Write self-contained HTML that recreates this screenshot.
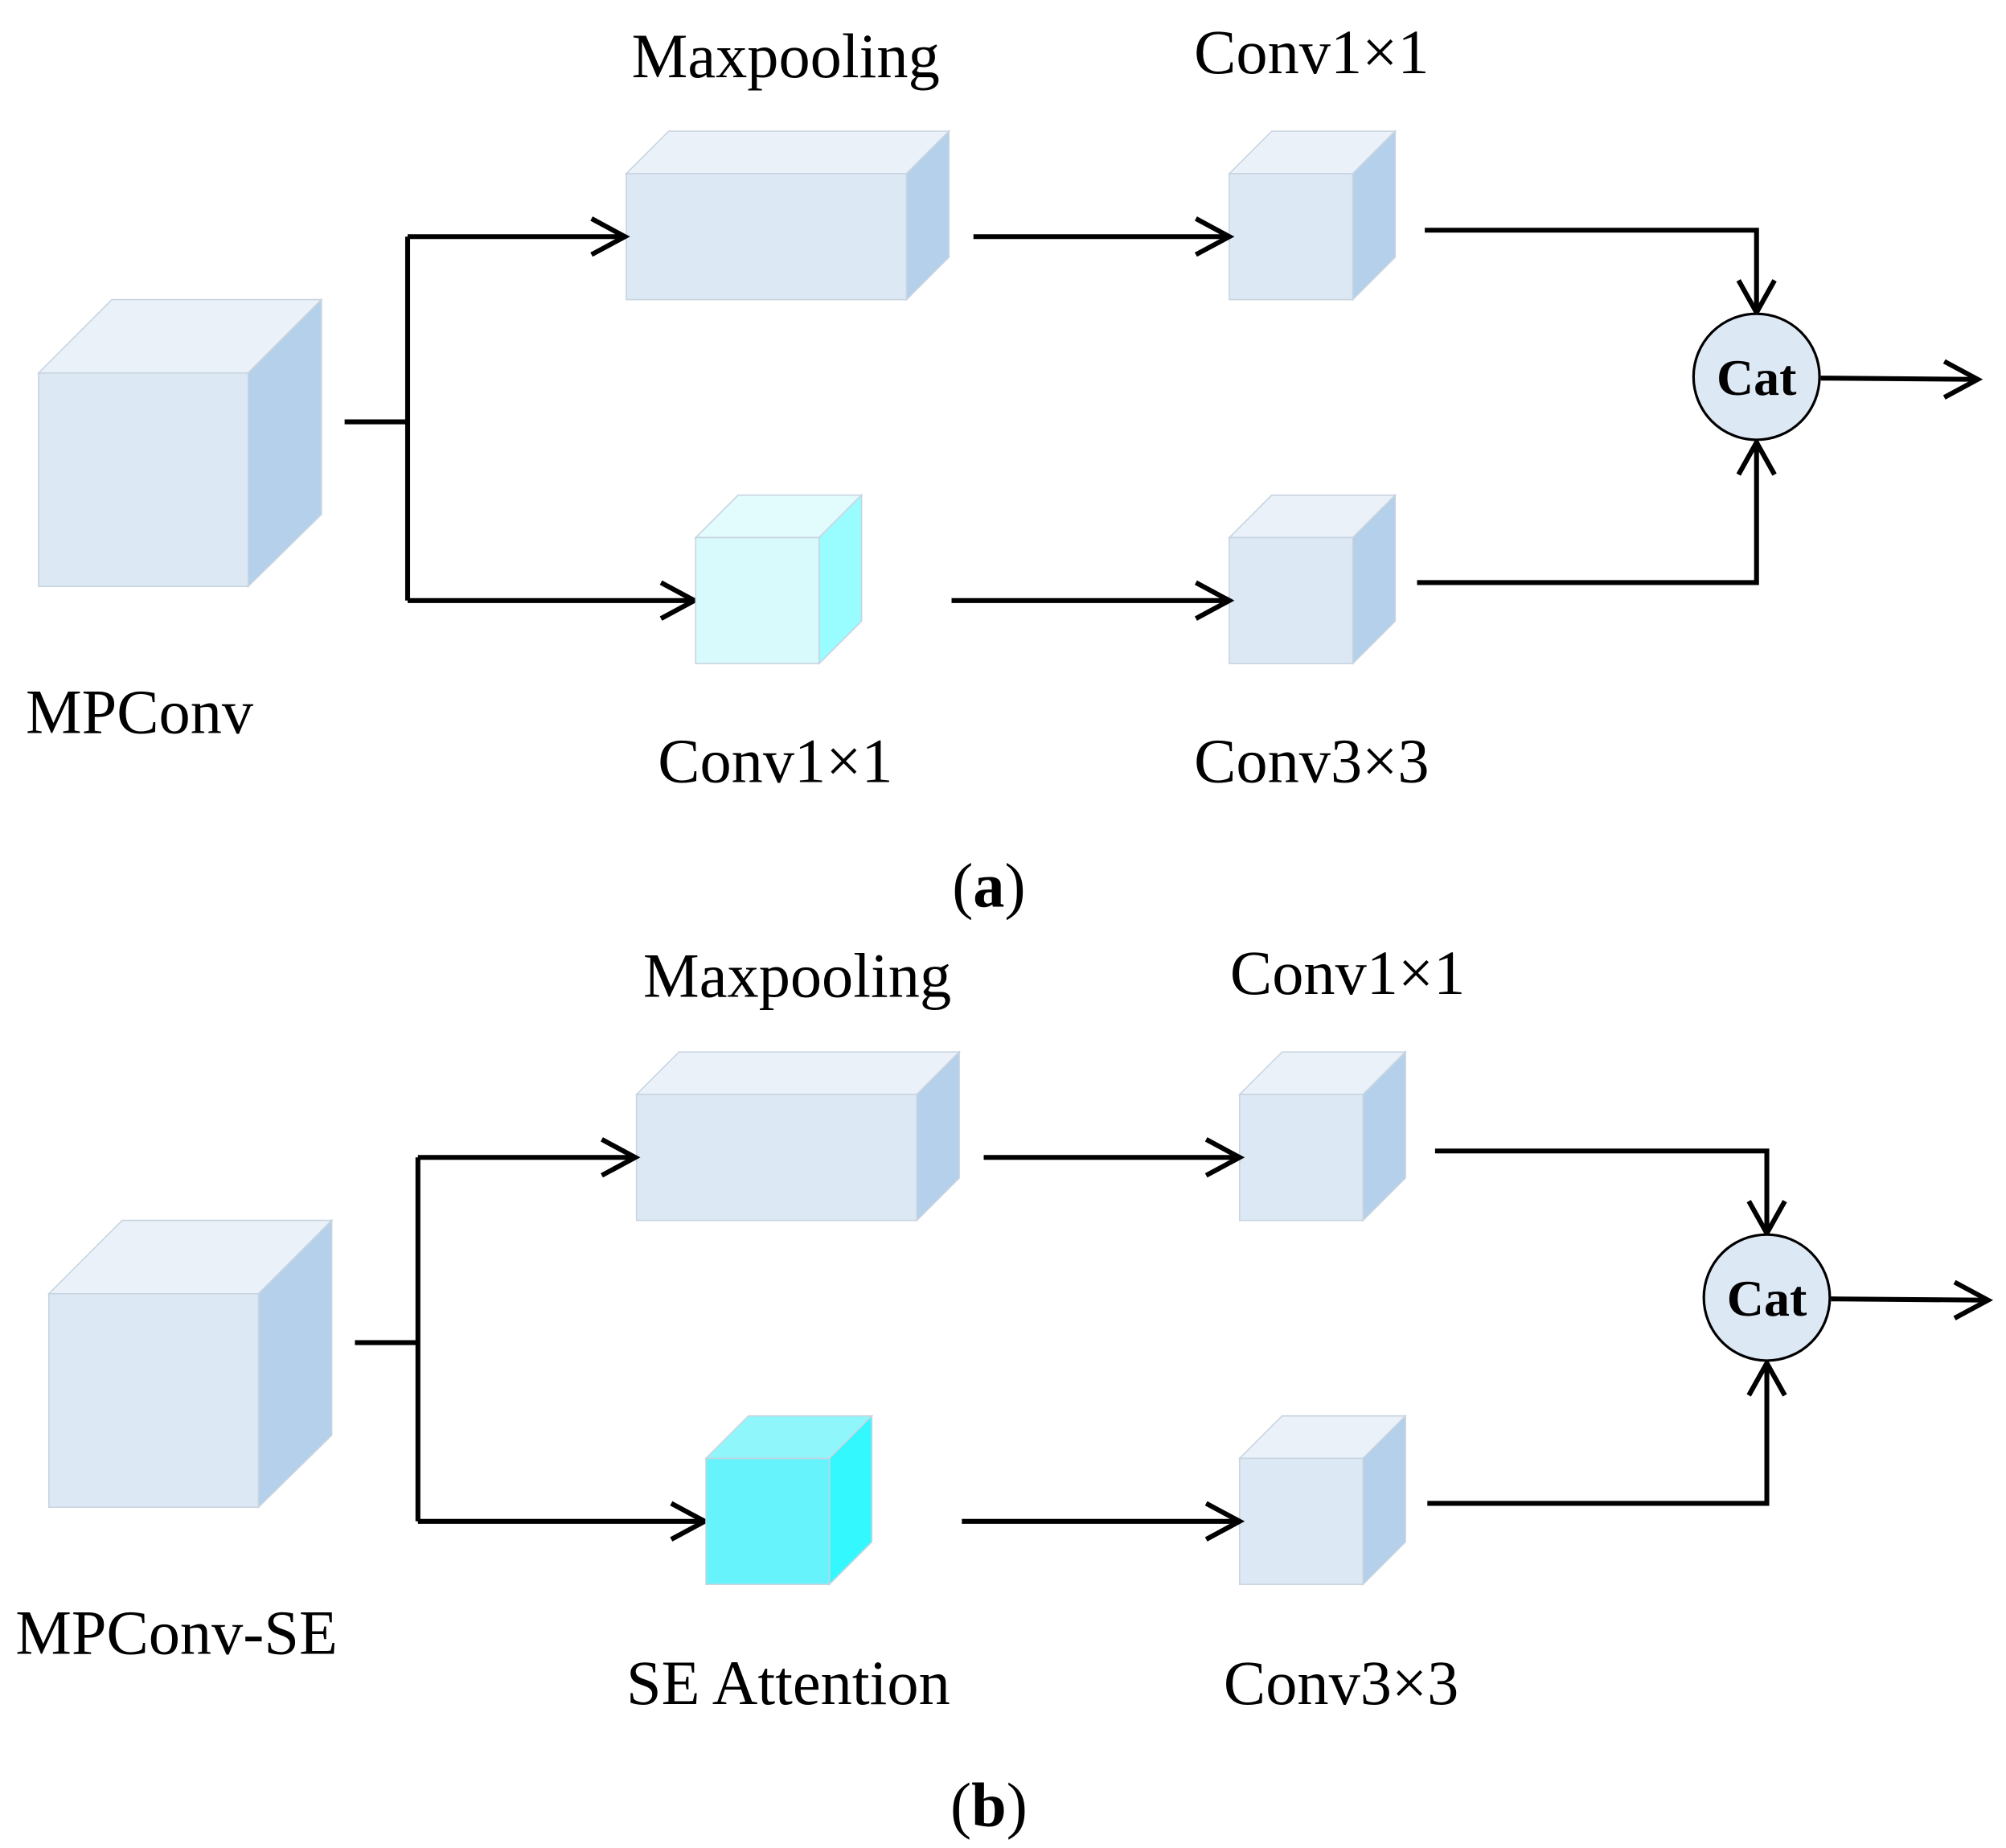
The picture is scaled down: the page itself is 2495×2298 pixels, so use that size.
<!DOCTYPE html>
<html><head><meta charset="utf-8"><style>html,body{margin:0;padding:0;background:#fff}svg{display:block}</style></head><body>
<svg width="2495" height="2298" viewBox="0 0 1560 1437" preserveAspectRatio="none" xmlns="http://www.w3.org/2000/svg" font-family="'Liberation Serif', serif">
<g id="A">
<g stroke="#c8d4e0" stroke-width="1">
<polygon points="30,290 87,233 250,233 193,290" fill="#eaf1f9"/>
<polygon points="193,290 250,233 250,400 193,456" fill="#b4d0ea"/>
<rect x="30" y="290" width="163" height="166" fill="#dde8f5"/>
<polygon points="487,135 520,102 738,102 705,135" fill="#eaf1f9"/>
<polygon points="705,135 738,102 738,200 705,233" fill="#b4d0ea"/>
<rect x="487" y="135" width="218" height="98" fill="#dde8f5"/>
<polygon points="956,135 989,102 1085,102 1052,135" fill="#eaf1f9"/>
<polygon points="1052,135 1085,102 1085,200 1052,233" fill="#b4d0ea"/>
<rect x="956" y="135" width="96" height="98" fill="#dde8f5"/>
<polygon points="956,418 989,385 1085,385 1052,418" fill="#eaf1f9"/>
<polygon points="1052,418 1085,385 1085,483 1052,516" fill="#b4d0ea"/>
<rect x="956" y="418" width="96" height="98" fill="#dde8f5"/>
</g>
<g fill="none" stroke="#000" stroke-width="3.8">
<path d="M268,328 H317 M317,184 V467 M317,184 H486 M317,467 H539"/>
<path d="M757,184 H956 M740,467 H956"/>
<path d="M1108,179 H1366 V243 M1102,453 H1366 V344 M1416,294 L1538,295"/>
<path d="M460,170 L486,184 L460,198 M514,453 L540,467 L514,481 M930,170 L956,184 L930,198 M930,453 L956,467 L930,481"/>
<path d="M1352,218 L1366,243 L1380,218 M1352,369 L1366,344 L1380,369 M1512,281 L1538,295 L1512,309"/>
</g>
</g>
<g stroke="#c8d4e0" stroke-width="1">
<polygon points="541,418 574,385 670,385 637,418" fill="#e2fbfd"/>
<polygon points="637,418 670,385 670,483 637,516" fill="#99fcff"/>
<rect x="541" y="418" width="96" height="98" fill="#d8fafd"/>
</g>
<circle cx="1366" cy="293" r="49" fill="#dde8f5" stroke="#000" stroke-width="2"/>
<text x="1366" y="307" font-size="40" font-weight="bold" text-anchor="middle">Cat</text>
<g font-size="49" text-anchor="middle">
<text x="611" y="60">Maxpooling</text>
<text x="1020" y="57">Conv1×1</text>
<text x="20" y="570" text-anchor="start">MPConv</text>
<text x="603" y="608">Conv1×1</text>
<text x="1020" y="608">Conv3×3</text>
<text x="769" y="705">(<tspan font-weight="bold">a</tspan>)</text>
</g>
<g transform="translate(8,716)">
<use href="#A"/>
<g stroke="#c8d4e0" stroke-width="1">
<polygon points="541,418 574,385 670,385 637,418" fill="#8ff7fb"/>
<polygon points="637,418 670,385 670,483 637,516" fill="#33f9ff"/>
<rect x="541" y="418" width="96" height="98" fill="#66f3fb"/>
</g>
<circle cx="1366" cy="293" r="49" fill="#dde8f5" stroke="#000" stroke-width="2"/>
<text x="1366" y="307" font-size="40" font-weight="bold" text-anchor="middle">Cat</text>
</g>
<g font-size="49" text-anchor="middle">
<text x="620" y="775">Maxpooling</text>
<text x="1048" y="773">Conv1×1</text>
<text x="12" y="1286" text-anchor="start">MPConv-SE</text>
<text x="613" y="1325">SE Attention</text>
<text x="1043" y="1325">Conv3×3</text>
<text x="769" y="1420">(<tspan font-weight="bold">b</tspan>)</text>
</g>
</svg>
</body></html>
